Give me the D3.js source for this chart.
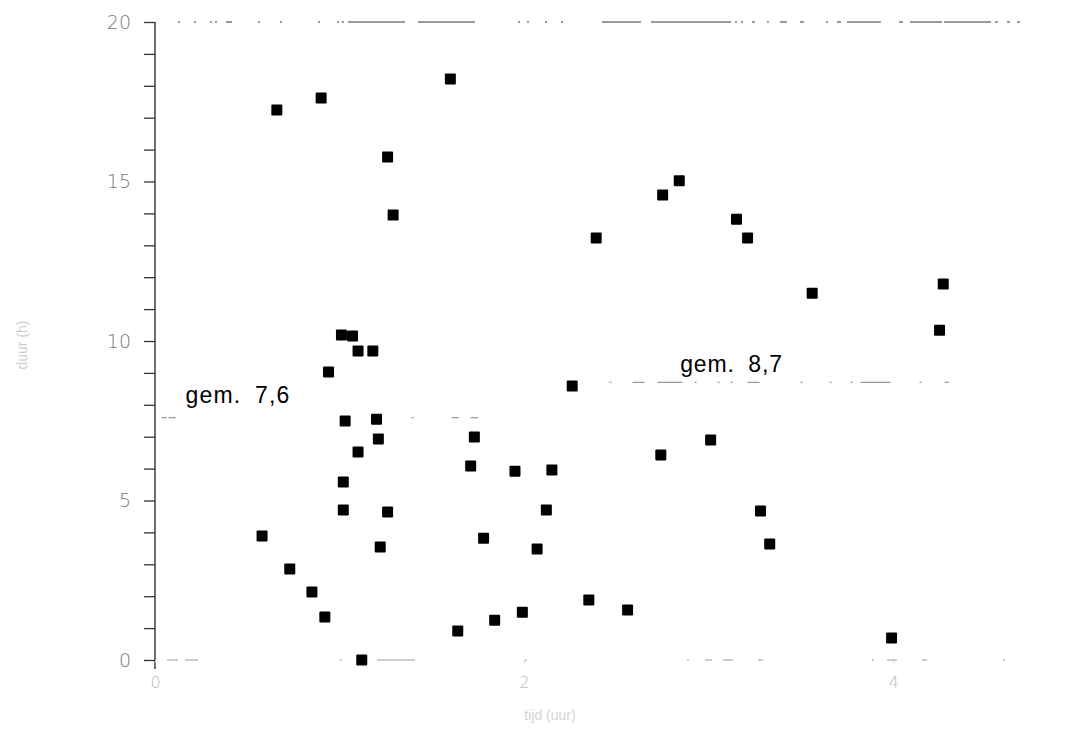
<!DOCTYPE html>
<html>
<head>
<meta charset="utf-8">
<script src="https://cdn.jsdelivr.net/npm/d3@7"></script>
<style>
  body { margin: 0; background: #fff; }
</style>
</head>
<body>
<div id="chart"></div>
<script>
// data
var xValues = [0.66, 0.90, 1.60, 1.26, 1.29, 2.39, 2.75, 2.84, 3.15, 3.21, 3.56, 4.27, 4.25,
  1.01, 1.07, 1.10, 1.18, 0.94, 2.26, 1.03, 1.20, 1.21, 1.10, 1.73, 1.71, 1.95, 2.15,
  1.02, 1.02, 1.26, 2.12, 1.22, 1.78, 2.07, 0.58, 0.73, 0.85, 0.92, 1.12, 1.64, 1.84,
  1.99, 2.35, 2.56, 2.74, 3.01, 3.28, 3.33, 3.99];
var yValues = [17.24, 17.62, 18.21, 15.77, 13.95, 13.23, 14.58, 15.02, 13.82, 13.23, 11.50, 11.79, 10.34,
  10.19, 10.16, 9.69, 9.69, 9.03, 8.59, 7.49, 7.55, 6.93, 6.52, 6.99, 6.08, 5.92, 5.96,
  5.58, 4.70, 4.64, 4.70, 3.54, 3.82, 3.48, 3.89, 2.85, 2.13, 1.35, 0.00, 0.91, 1.25,
  1.50, 1.88, 1.57, 6.43, 6.90, 4.67, 3.64, 0.69];

var meanValues = [7.6, 8.7];
var meanLabels = ["gem. 7,6", "gem. 8,7"];
var meanFrom = [0.02, 2.3];
var meanTo = [1.75, 4.3];

var xTicks = [0, 2, 4];
var yTicks = d3.range(0, 21, 1);
var yLabelled = [0, 5, 10, 15, 20];

var width = 1074, height = 743;
var margin = {top: 22, right: 44, bottom: 83, left: 155};

var x = d3.scaleLinear().domain([0, 4.74]).range([margin.left, width - margin.right]);
var y = d3.scaleLinear().domain([0, 20]).range([height - margin.bottom, margin.top]);

// worn-out look of the scanned rules: list of [from, to] pieces, offsets in px from the line start
function dashes(pieces, total) {
  var out = [], pos = 0;
  pieces.forEach(function (p) {
    out.push(p[0] - pos, Math.max(p[1] - p[0], 1.2));
    pos = p[0] + Math.max(p[1] - p[0], 1.2);
  });
  out.unshift(0);
  out.push(total);
  return out.join(",");
}

var topStyle = [[23, 25], [39, 41], [55, 57], [60, 62], [71, 77], [103, 105], [125, 127], [163, 165],
  [182, 184], [187, 189], [193, 250], [263, 320], [363, 365], [372, 374], [390, 392], [406, 408],
  [447, 486], [496, 576], [580, 582], [586, 588], [597, 600], [612, 614], [625, 632], [645, 649],
  [671, 673], [682, 686], [692, 726], [744, 748], [755, 787], [789, 836], [840, 843], [852, 855], [862, 865]];
var bottomStyle = [[-10, -8], [12, 23], [30, 43], [185, 187], [222, 260], [370, 372], [532, 534],
  [550, 557], [568, 578], [603, 608], [717, 719], [732, 742], [767, 772], [848, 850]];
var meanStyle = [
  [[3, 8], [10, 17], [253, 255], [293, 300], [312, 323]],
  [[30, 32], [53, 65], [78, 103], [115, 117], [138, 140], [151, 153], [168, 180], [221, 223],
    [250, 252], [271, 273], [281, 311], [340, 342], [365, 370]]
];

var svg = d3.select("#chart").append("svg")
  .attr("width", width)
  .attr("height", height)
  .style("font-family", "Liberation Sans, Arial, sans-serif");

// faded frame lines at 0 and 20
svg.append("line")
  .attr("x1", x(0)).attr("x2", x(4.74) + 30)
  .attr("y1", y(20)).attr("y2", y(20))
  .attr("stroke", "#7a7a7a")
  .attr("stroke-width", 1.4)
  .attr("stroke-dasharray", dashes(topStyle, 2000));

svg.append("line")
  .attr("x1", x(0) - 10).attr("x2", x(4.74))
  .attr("y1", y(0)).attr("y2", y(0))
  .attr("stroke", "#999")
  .attr("stroke-width", 1.2)
  .attr("stroke-dasharray", dashes(bottomStyle.map(function (p) { return [p[0] + 10, p[1] + 10]; }), 2000));

// y axis
var yAxis = svg.append("g")
  .attr("transform", "translate(" + x(0) + ",0)")
  .call(d3.axisLeft(y)
    .tickValues(yTicks)
    .tickSize(11)
    .tickPadding(13)
    .tickFormat(function (d) { return yLabelled.indexOf(d) >= 0 ? d : ""; }));

yAxis.select(".domain")
  .attr("d", "M0," + y(20) + "V" + (y(0) + 9))
  .attr("stroke", "#333")
  .attr("stroke-width", 1.4);
yAxis.selectAll(".tick line").attr("stroke", "#333").attr("stroke-width", 1.3);
yAxis.selectAll(".tick text")
  .style("font-size", "19px")
  .style("font-family", "DejaVu Sans, sans-serif")
  .style("font-weight", 200)
  .attr("fill", "#777");

// x axis, mostly faded on the scan
var xAxis = svg.append("g")
  .attr("transform", "translate(0," + y(0) + ")")
  .call(d3.axisBottom(x)
    .tickValues(xTicks)
    .tickSize(3)
    .tickPadding(14)
    .tickFormat(d3.format("d")));
xAxis.select(".domain").remove();
xAxis.selectAll(".tick line").attr("stroke", "#ccc");
xAxis.selectAll(".tick text")
  .style("font-size", "16px")
  .style("font-family", "DejaVu Sans, sans-serif")
  .style("font-weight", 200)
  .attr("fill", "#bbb");

// mean lines
meanValues.forEach(function (m, i) {
  svg.append("line")
    .attr("x1", x(meanFrom[i])).attr("x2", x(meanTo[i]))
    .attr("y1", y(m)).attr("y2", y(m))
    .attr("stroke", "#999")
    .attr("stroke-width", 1.2)
    .attr("stroke-dasharray", dashes(meanStyle[i], 2000));
});

svg.append("text")
  .attr("x", x(0.165))
  .attr("y", y(7.6) - 15)
  .style("font-size", "23px")
  .style("word-spacing", "6px")
  .style("letter-spacing", "1.2px")
  .attr("fill", "#000")
  .text(meanLabels[0]);

svg.append("text")
  .attr("x", x(2.845))
  .attr("y", y(8.7) - 10)
  .style("font-size", "23px")
  .style("word-spacing", "6px")
  .style("letter-spacing", "0.9px")
  .attr("fill", "#000")
  .text(meanLabels[1]);

// points
var size = 11;
svg.selectAll(".pt")
  .data(xValues)
  .enter().append("rect")
  .attr("class", "pt")
  .attr("x", function (d) { return x(d) - size / 2; })
  .attr("y", function (d, i) { return y(yValues[i]) - size / 2; })
  .attr("width", size)
  .attr("height", size)
  .attr("rx", 1)
  .attr("fill", "#000");

// faint axis titles
svg.append("text")
  .attr("x", 550)
  .attr("y", 720)
  .style("text-anchor", "middle")
  .style("font-size", "14px")
  .attr("fill", "#d4d4d4")
  .text("tijd (uur)");

svg.append("text")
  .attr("transform", "translate(27," + 345 + ") rotate(-90)")
  .style("text-anchor", "middle")
  .style("font-size", "14px")
  .attr("fill", "#cfcfcf")
  .text("duur (h)");
</script>
</body>
</html>
